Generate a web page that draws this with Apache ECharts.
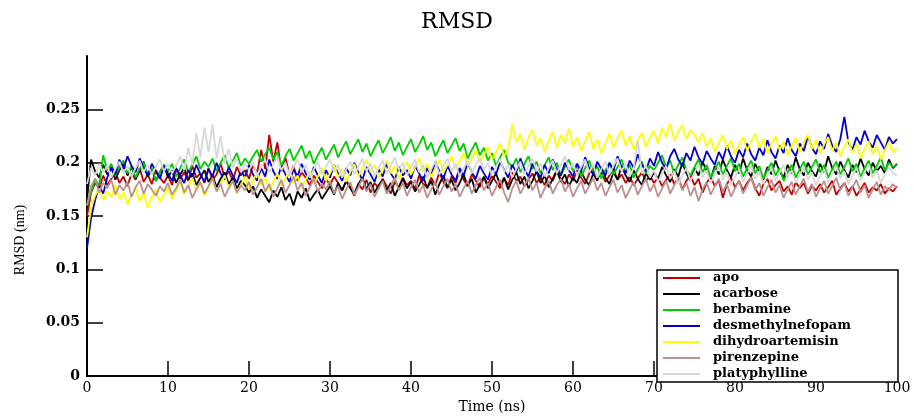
<!DOCTYPE html>
<html>
<head>
<meta charset="utf-8">
<script src="https://cdn.jsdelivr.net/npm/echarts@6/dist/echarts.min.js"></script>
<style>
  html, body { margin: 0; padding: 0; background: #fff; }
  #chart { width: 914px; height: 419px; }
</style>
</head>
<body>
<div id="chart"></div>
<script>
  // sampling step of the trajectory (ns)
  const timeStep = 0.5;

  const seriesNames = ['apo', 'acarbose', 'berbamine', 'desmethylnefopam', 'dihydroartemisin', 'pirenzepine', 'platyphylline'];
  const seriesColors = ['#c00000', '#000000', '#00cc00', '#0000c8', '#ffff00', '#bc8f8f', '#d8d8d8'];

  const apo = [
    0.150,0.172,0.181,0.176,0.188,0.179,0.185,0.192,0.181,0.187,0.178,0.190,0.184,0.195,0.182,0.189,0.180,0.193,0.186,0.181,
    0.188,0.179,0.194,0.185,0.191,0.183,0.197,0.186,0.190,0.181,0.195,0.184,0.189,0.199,0.186,0.192,0.183,0.196,0.188,0.193,
    0.185,0.198,0.190,0.212,0.194,0.226,0.201,0.219,0.192,0.205,0.188,0.197,0.183,0.191,0.186,0.179,0.188,0.182,0.176,0.185,
    0.179,0.187,0.181,0.174,0.183,0.177,0.169,0.180,0.175,0.184,0.172,0.181,0.176,0.185,0.178,0.171,0.182,0.177,0.186,0.179,
    0.183,0.175,0.188,0.180,0.177,0.186,0.179,0.191,0.182,0.176,0.187,0.181,0.193,0.184,0.178,0.189,0.183,0.177,0.186,0.180,
    0.188,0.182,0.176,0.185,0.179,0.191,0.183,0.187,0.178,0.184,0.190,0.181,0.186,0.179,0.188,0.183,0.192,0.185,0.180,0.189,
    0.183,0.193,0.186,0.180,0.190,0.196,0.185,0.191,0.182,0.188,0.194,0.184,0.189,0.181,0.187,0.179,0.185,0.191,0.183,0.188,
    0.181,0.186,0.178,0.184,0.189,0.180,0.186,0.175,0.183,0.188,0.179,0.185,0.172,0.181,0.187,0.178,0.184,0.167,0.180,0.186,
    0.177,0.183,0.174,0.181,0.186,0.176,0.169,0.180,0.185,0.174,0.179,0.183,0.173,0.178,0.170,0.182,0.176,0.181,0.171,0.178,
    0.174,0.180,0.172,0.177,0.183,0.170,0.176,0.181,0.173,0.178,0.169,0.175,0.181,0.172,0.177,0.174,0.180,0.171,0.176,0.173,
    0.178
  ];
  const acarbose = [
    0.165,0.203,0.192,0.186,0.198,0.189,0.195,0.184,0.193,0.199,0.188,0.196,0.185,0.192,0.201,0.187,0.194,0.183,0.191,0.198,
    0.186,0.193,0.181,0.189,0.195,0.184,0.190,0.179,0.186,0.193,0.182,0.188,0.177,0.185,0.191,0.180,0.186,0.176,0.183,0.179,
    0.172,0.178,0.167,0.175,0.169,0.163,0.174,0.168,0.177,0.165,0.171,0.160,0.173,0.167,0.176,0.164,0.170,0.175,0.166,0.172,
    0.178,0.170,0.181,0.174,0.183,0.176,0.171,0.180,0.186,0.175,0.182,0.172,0.179,0.184,0.174,0.181,0.169,0.177,0.185,0.176,
    0.182,0.173,0.179,0.187,0.176,0.183,0.170,0.180,0.188,0.177,0.184,0.174,0.181,0.189,0.178,0.185,0.172,0.180,0.187,0.176,
    0.183,0.190,0.179,0.186,0.175,0.184,0.191,0.180,0.187,0.176,0.183,0.192,0.181,0.188,0.177,0.185,0.193,0.182,0.189,0.178,
    0.186,0.181,0.192,0.184,0.179,0.190,0.183,0.196,0.186,0.180,0.191,0.184,0.197,0.188,0.182,0.193,0.185,0.179,0.190,0.184,
    0.191,0.185,0.196,0.188,0.182,0.194,0.187,0.200,0.190,0.183,0.195,0.188,0.201,0.192,0.185,0.197,0.189,0.203,0.193,0.186,
    0.198,0.190,0.204,0.193,0.187,0.199,0.191,0.184,0.196,0.189,0.202,0.192,0.186,0.198,0.190,0.205,0.194,0.188,0.200,0.192,
    0.187,0.199,0.191,0.206,0.195,0.189,0.201,0.193,0.186,0.198,0.191,0.204,0.194,0.188,0.200,0.192,0.197,0.190,0.203,0.195,
    0.199
  ];
  const berbamine = [
    0.160,0.172,0.185,0.178,0.207,0.193,0.199,0.188,0.196,0.202,0.190,0.197,0.186,0.194,0.200,0.189,0.195,0.183,0.191,0.198,
    0.192,0.199,0.187,0.195,0.203,0.191,0.198,0.206,0.194,0.201,0.196,0.204,0.192,0.200,0.207,0.195,0.202,0.209,0.197,0.204,
    0.199,0.206,0.212,0.201,0.208,0.214,0.203,0.210,0.197,0.206,0.213,0.202,0.209,0.216,0.204,0.211,0.199,0.207,0.214,0.203,
    0.210,0.217,0.205,0.213,0.220,0.208,0.215,0.222,0.210,0.218,0.206,0.214,0.221,0.209,0.216,0.224,0.211,0.219,0.207,0.215,
    0.222,0.210,0.217,0.225,0.212,0.219,0.206,0.214,0.221,0.209,0.216,0.223,0.211,0.218,0.204,0.212,0.219,0.207,0.214,0.202,
    0.209,0.197,0.205,0.212,0.200,0.196,0.204,0.191,0.199,0.206,0.194,0.201,0.190,0.198,0.205,0.193,0.200,0.188,0.196,0.203,
    0.192,0.199,0.187,0.195,0.202,0.190,0.197,0.185,0.193,0.200,0.189,0.196,0.203,0.191,0.198,0.186,0.194,0.201,0.190,0.197,
    0.193,0.200,0.207,0.195,0.202,0.190,0.198,0.205,0.193,0.188,0.196,0.203,0.191,0.198,0.186,0.194,0.201,0.189,0.197,0.204,
    0.192,0.199,0.187,0.195,0.202,0.190,0.197,0.185,0.193,0.200,0.188,0.195,0.183,0.191,0.198,0.186,0.194,0.201,0.189,0.196,
    0.203,0.191,0.198,0.186,0.194,0.201,0.189,0.196,0.204,0.192,0.199,0.187,0.195,0.202,0.190,0.197,0.205,0.193,0.200,0.196,
    0.198
  ];
  const desmethylnefopam = [
    0.120,0.148,0.165,0.178,0.171,0.186,0.196,0.189,0.203,0.194,0.206,0.197,0.191,0.204,0.195,0.188,0.199,0.192,0.185,0.197,
    0.190,0.183,0.195,0.188,0.181,0.193,0.186,0.198,0.189,0.182,0.194,0.187,0.200,0.190,0.184,0.196,0.188,0.181,0.193,0.186,
    0.198,0.189,0.183,0.195,0.187,0.203,0.192,0.185,0.197,0.189,0.182,0.194,0.187,0.199,0.190,0.184,0.196,0.188,0.181,0.193,
    0.186,0.198,0.190,0.183,0.195,0.188,0.200,0.191,0.184,0.196,0.189,0.182,0.194,0.187,0.199,0.190,0.184,0.196,0.188,0.193,
    0.185,0.197,0.190,0.183,0.195,0.188,0.201,0.192,0.185,0.197,0.189,0.183,0.195,0.188,0.200,0.191,0.185,0.197,0.190,0.184,
    0.196,0.189,0.201,0.193,0.186,0.198,0.191,0.204,0.194,0.187,0.199,0.192,0.186,0.198,0.190,0.203,0.194,0.188,0.200,0.193,
    0.187,0.199,0.192,0.205,0.195,0.189,0.201,0.194,0.188,0.200,0.193,0.206,0.196,0.190,0.202,0.195,0.208,0.198,0.192,0.204,
    0.197,0.210,0.200,0.194,0.206,0.213,0.203,0.197,0.209,0.202,0.215,0.205,0.199,0.211,0.204,0.198,0.210,0.203,0.216,0.206,
    0.200,0.212,0.205,0.218,0.208,0.202,0.214,0.207,0.221,0.210,0.204,0.216,0.209,0.223,0.212,0.206,0.218,0.211,0.225,0.214,
    0.208,0.220,0.213,0.227,0.216,0.210,0.222,0.243,0.219,0.212,0.224,0.217,0.230,0.220,0.214,0.226,0.219,0.212,0.224,0.218,
    0.222
  ];
  const dihydroartemisin = [
    0.130,0.158,0.169,0.176,0.165,0.173,0.168,0.179,0.166,0.172,0.161,0.170,0.176,0.164,0.171,0.158,0.168,0.175,0.163,0.170,
    0.177,0.166,0.174,0.182,0.170,0.178,0.186,0.174,0.181,0.169,0.177,0.185,0.173,0.180,0.188,0.176,0.183,0.171,0.179,0.187,
    0.175,0.183,0.191,0.179,0.186,0.174,0.182,0.190,0.178,0.185,0.193,0.181,0.188,0.176,0.184,0.192,0.180,0.187,0.195,0.183,
    0.190,0.198,0.186,0.194,0.182,0.191,0.199,0.187,0.195,0.203,0.191,0.198,0.186,0.194,0.202,0.190,0.197,0.185,0.193,0.201,
    0.189,0.196,0.204,0.192,0.199,0.187,0.195,0.203,0.191,0.198,0.206,0.194,0.201,0.209,0.197,0.204,0.212,0.200,0.207,0.215,
    0.203,0.210,0.218,0.206,0.213,0.236,0.219,0.227,0.212,0.224,0.231,0.216,0.223,0.210,0.221,0.229,0.214,0.226,0.218,0.232,
    0.215,0.224,0.211,0.220,0.229,0.213,0.222,0.209,0.218,0.227,0.214,0.223,0.230,0.216,0.225,0.212,0.221,0.228,0.215,0.224,
    0.230,0.218,0.233,0.224,0.237,0.221,0.229,0.235,0.222,0.231,0.226,0.219,0.228,0.215,0.223,0.210,0.219,0.226,0.213,0.221,
    0.208,0.217,0.224,0.211,0.220,0.227,0.214,0.222,0.209,0.218,0.225,0.212,0.220,0.207,0.216,0.223,0.210,0.219,0.226,0.213,
    0.221,0.208,0.217,0.224,0.211,0.219,0.206,0.215,0.222,0.209,0.218,0.204,0.213,0.220,0.208,0.216,0.203,0.212,0.219,0.210,
    0.214
  ];
  const pirenzepine = [
    0.160,0.178,0.185,0.172,0.181,0.176,0.184,0.170,0.179,0.174,0.182,0.168,0.177,0.183,0.171,0.180,0.175,0.169,0.178,0.173,
    0.181,0.170,0.176,0.184,0.172,0.179,0.167,0.175,0.182,0.171,0.178,0.186,0.173,0.180,0.168,0.176,0.183,0.172,0.179,0.174,
    0.182,0.170,0.177,0.185,0.173,0.180,0.168,0.176,0.184,0.172,0.179,0.187,0.174,0.181,0.169,0.177,0.185,0.173,0.180,0.175,
    0.183,0.171,0.178,0.166,0.175,0.182,0.170,0.177,0.185,0.173,0.180,0.168,0.176,0.183,0.171,0.178,0.186,0.174,0.181,0.169,
    0.177,0.184,0.172,0.179,0.167,0.175,0.182,0.170,0.178,0.185,0.173,0.180,0.168,0.176,0.183,0.171,0.179,0.186,0.174,0.181,
    0.169,0.177,0.184,0.172,0.163,0.176,0.183,0.171,0.178,0.186,0.174,0.181,0.167,0.176,0.183,0.171,0.179,0.185,0.173,0.180,
    0.168,0.176,0.183,0.171,0.178,0.186,0.174,0.181,0.169,0.177,0.184,0.172,0.179,0.167,0.175,0.182,0.170,0.178,0.185,0.173,
    0.180,0.168,0.176,0.183,0.171,0.179,0.186,0.174,0.181,0.169,0.177,0.164,0.175,0.182,0.170,0.178,0.185,0.173,0.180,0.168,
    0.176,0.183,0.171,0.179,0.186,0.174,0.181,0.169,0.177,0.184,0.172,0.179,0.167,0.175,0.182,0.170,0.178,0.185,0.173,0.180,
    0.168,0.176,0.183,0.171,0.178,0.186,0.174,0.181,0.169,0.177,0.184,0.172,0.179,0.167,0.175,0.182,0.170,0.178,0.174,0.180,
    0.176
  ];
  const platyphylline = [
    0.180,0.195,0.188,0.199,0.191,0.197,0.186,0.194,0.201,0.190,0.197,0.187,0.195,0.202,0.191,0.198,0.189,0.196,0.203,0.192,
    0.199,0.190,0.197,0.206,0.193,0.214,0.198,0.228,0.205,0.233,0.210,0.236,0.204,0.225,0.199,0.213,0.195,0.204,0.191,0.199,
    0.193,0.200,0.188,0.196,0.203,0.191,0.198,0.205,0.193,0.200,0.188,0.196,0.203,0.191,0.198,0.186,0.194,0.201,0.189,0.196,
    0.203,0.191,0.198,0.186,0.194,0.201,0.189,0.196,0.204,0.192,0.199,0.187,0.195,0.202,0.190,0.197,0.205,0.193,0.200,0.188,
    0.196,0.203,0.191,0.198,0.186,0.194,0.201,0.189,0.197,0.204,0.192,0.199,0.187,0.195,0.202,0.190,0.198,0.205,0.193,0.200,
    0.188,0.196,0.203,0.191,0.198,0.186,0.194,0.201,0.189,0.197,0.204,0.192,0.199,0.187,0.195,0.202,0.190,0.198,0.206,0.193,
    0.200,0.188,0.196,0.203,0.191,0.198,0.186,0.194,0.201,0.189,0.197,0.204,0.192,0.199,0.187,0.195,0.221,0.190,0.198,0.186,
    0.193,0.182,0.190,0.197,0.185,0.192,0.180,0.188,0.195,0.183,0.191,0.198,0.186,0.193,0.181,0.189,0.196,0.184,0.191,0.179,
    0.187,0.194,0.182,0.190,0.197,0.185,0.192,0.180,0.188,0.195,0.183,0.191,0.198,0.186,0.193,0.181,0.189,0.196,0.184,0.191,
    0.179,0.187,0.194,0.182,0.190,0.197,0.185,0.192,0.180,0.188,0.195,0.183,0.191,0.198,0.186,0.193,0.181,0.189,0.196,0.190,
    0.188
  ];

  const yTicks = [0, 0.05, 0.1, 0.15, 0.2, 0.25];
  const xTicks = [0, 10, 20, 30, 40, 50, 60, 70, 80, 90, 100];

  const allValues = [apo, acarbose, berbamine, desmethylnefopam, dihydroartemisin, pirenzepine, platyphylline];

  const chart = echarts.init(document.getElementById('chart'));
  chart.setOption({
    animation: false,
    backgroundColor: '#fff',
    title: {
      text: 'RMSD',
      left: 'center',
      top: 6,
      textStyle: { fontFamily: 'DejaVu Serif', fontSize: 22, fontWeight: 'normal', color: '#000' }
    },
    grid: { left: 87, right: 17, top: 56, bottom: 35 },
    graphic: [
      {
        type: 'rect',
        z: 3,
        shape: { x: 657, y: 270, width: 241, height: 112 },
        style: { fill: '#fff', stroke: '#000', lineWidth: 1.5 }
      },
      {
        // y axis title, sits a little below the plot centre as in the original
        type: 'text',
        x: 20,
        y: 240,
        rotation: Math.PI / 2,
        style: {
          text: 'RMSD (nm)',
          fontFamily: 'Liberation Serif',
          fontSize: 14,
          fill: '#000',
          align: 'center',
          verticalAlign: 'middle'
        }
      }
    ],
    legend: {
      data: seriesNames,
      orient: 'vertical',
      left: 663,
      top: 271,
      z: 5,
      padding: 0,
      itemGap: 2,
      itemWidth: 37,
      itemHeight: 2,
      icon: 'rect',
      textStyle: {
        fontFamily: 'DejaVu Serif', fontSize: 13, fontWeight: 'bold',
        color: '#000', lineHeight: 14, padding: [0, 0, 0, 8]
      }
    },
    xAxis: {
      type: 'value',
      min: 0,
      max: 100,
      interval: 10,
      name: 'Time (ns)',
      nameLocation: 'middle',
      nameGap: 19,
      nameTextStyle: { fontFamily: 'DejaVu Serif', fontSize: 14, color: '#000' },
      axisLine: { lineStyle: { color: '#000', width: 2 } },
      axisTick: { inside: true, length: 15, lineStyle: { color: '#000', width: 1.5 }, customValues: xTicks },
      axisLabel: { color: '#000', fontFamily: 'DejaVu Serif', fontSize: 14, margin: 5, customValues: xTicks },
      splitLine: { show: false }
    },
    yAxis: {
      type: 'value',
      min: 0,
      max: 0.3,
      interval: 0.05,
      axisLine: { lineStyle: { color: '#000', width: 2 } },
      axisTick: { inside: true, length: 16, lineStyle: { color: '#000', width: 1.5 }, customValues: yTicks },
      axisLabel: {
        color: '#000', fontFamily: 'DejaVu Serif', fontSize: 14, fontWeight: 'bold', margin: 7,
        customValues: yTicks
      },
      splitLine: { show: false }
    },
    series: seriesNames.map((name, k) => ({
      name: name,
      type: 'line',
      symbol: 'none',
      color: seriesColors[k],
      lineStyle: { width: 1.8, color: seriesColors[k] },
      data: allValues[k].map((v, i) => [i * timeStep, v])
    }))
  });
</script>
</body>
</html>
